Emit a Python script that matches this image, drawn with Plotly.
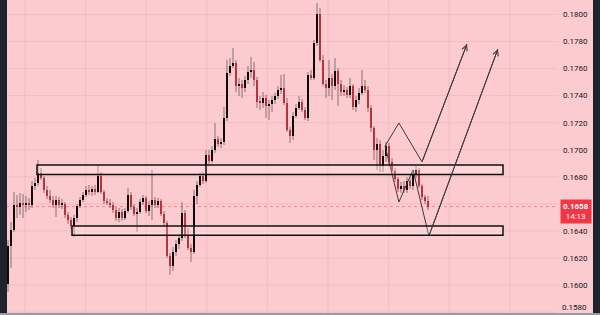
import plotly.graph_objects as go

# ---- candle data (price) ----
opens = [
 0.16008,0.16289,0.16407,0.16592,0.16577,0.16607,0.16592,0.16607,0.16592,0.16732,
 0.16755,0.16829,0.16792,0.16703,0.16659,0.16629,0.16592,0.16629,0.16592,0.16599,
 0.16518,0.16481,0.16437,0.16496,0.16585,0.16629,0.16666,0.16703,0.16688,0.16710,
 0.16688,0.16806,0.16688,0.16622,0.16607,0.16592,0.16555,0.16496,0.16540,0.16496,
 0.16548,0.16666,0.16577,0.16526,0.16540,0.16614,0.16644,0.16548,0.16592,0.16629,
 0.16592,0.16622,0.16526,0.16459,0.16215,0.16141,0.16245,0.16304,0.16348,0.16533,
 0.16363,0.16274,0.16245,0.16659,0.16740,0.16806,0.16769,0.16962,0.16917,0.16998,
 0.17080,0.17043,0.17058,0.17235,0.17568,0.17619,0.17641,0.17471,0.17486,0.17457,
 0.17516,0.17575,0.17590,0.17516,0.17353,0.17346,0.17383,0.17324,0.17338,0.17368,
 0.17398,0.17442,0.17457,0.17346,0.17146,0.17102,0.17250,0.17309,0.17353,0.17294,
 0.17235,0.17553,0.17531,0.17789,0.18004,0.17664,0.17486,0.17457,0.17531,0.17471,
 0.17582,0.17486,0.17427,0.17442,0.17405,0.17471,0.17316,0.17368,0.17420,0.17471,
 0.17442,0.17309,0.17161,0.16998,0.17043,0.16880,0.16954,0.17028,0.16910,0.16843,
 0.16784,0.16710,0.16732,0.16703,0.16769,0.16732,0.16821,0.16851,0.16732,0.16651,
 0.16622]
closes = [
 0.16289,0.16407,0.16592,0.16577,0.16607,0.16592,0.16607,0.16592,0.16732,0.16755,
 0.16829,0.16792,0.16703,0.16659,0.16629,0.16592,0.16629,0.16592,0.16599,0.16518,
 0.16481,0.16437,0.16496,0.16585,0.16629,0.16666,0.16703,0.16688,0.16710,0.16688,
 0.16806,0.16688,0.16622,0.16607,0.16592,0.16555,0.16496,0.16540,0.16496,0.16548,
 0.16666,0.16577,0.16526,0.16540,0.16614,0.16644,0.16548,0.16592,0.16629,0.16592,
 0.16622,0.16526,0.16459,0.16215,0.16141,0.16245,0.16304,0.16348,0.16533,0.16363,
 0.16274,0.16245,0.16659,0.16740,0.16806,0.16769,0.16962,0.16917,0.16998,0.17080,
 0.17043,0.17058,0.17235,0.17568,0.17619,0.17641,0.17471,0.17486,0.17457,0.17516,
 0.17575,0.17590,0.17516,0.17353,0.17346,0.17383,0.17324,0.17338,0.17368,0.17398,
 0.17442,0.17457,0.17346,0.17146,0.17102,0.17250,0.17309,0.17353,0.17294,0.17235,
 0.17553,0.17531,0.17789,0.18004,0.17664,0.17486,0.17457,0.17531,0.17471,0.17582,
 0.17486,0.17427,0.17442,0.17405,0.17471,0.17316,0.17368,0.17420,0.17471,0.17442,
 0.17309,0.17161,0.16998,0.17043,0.16880,0.16954,0.17028,0.16910,0.16843,0.16784,
 0.16710,0.16732,0.16703,0.16769,0.16732,0.16821,0.16851,0.16732,0.16651,0.16622,
 0.16580]
highs = [
 0.16333,0.16466,0.16688,0.16666,0.16681,0.16673,0.16659,0.16644,0.16769,0.16792,
 0.16925,0.16865,0.16806,0.16732,0.16703,0.16659,0.16659,0.16651,0.16636,0.16614,
 0.16540,0.16503,0.16518,0.16599,0.16651,0.16688,0.16732,0.16740,0.16732,0.16740,
 0.16888,0.16836,0.16703,0.16644,0.16636,0.16614,0.16577,0.16570,0.16562,0.16570,
 0.16718,0.16688,0.16599,0.16570,0.16636,0.16666,0.16659,0.16622,0.16851,0.16651,
 0.16644,0.16636,0.16548,0.16474,0.16237,0.16282,0.16333,0.16378,0.16614,0.16555,
 0.16422,0.16304,0.16703,0.16769,0.16829,0.16836,0.16998,0.16998,0.17028,0.17198,
 0.17102,0.17087,0.17316,0.17664,0.17678,0.17752,0.17664,0.17531,0.17516,0.17545,
 0.17619,0.17686,0.17649,0.17538,0.17398,0.17427,0.17405,0.17368,0.17398,0.17420,
 0.17471,0.17553,0.17560,0.17383,0.17168,0.17279,0.17338,0.17398,0.17375,0.17316,
 0.17575,0.17590,0.17811,0.18085,0.18048,0.17701,0.17516,0.17664,0.17560,0.17678,
 0.17604,0.17516,0.17479,0.17464,0.17531,0.17486,0.17398,0.17457,0.17590,0.17516,
 0.17471,0.17331,0.17176,0.17087,0.17072,0.16998,0.17058,0.17050,0.16939,0.16865,
 0.16799,0.16762,0.16769,0.16799,0.16792,0.16851,0.16880,0.16865,0.16747,0.16666,
 0.16659]
lows = [
 0.15949,0.16126,0.16393,0.16496,0.16518,0.16496,0.16540,0.16555,0.16570,0.16703,
 0.16732,0.16777,0.16681,0.16636,0.16607,0.16570,0.16503,0.16570,0.16562,0.16496,
 0.16452,0.16415,0.16356,0.16466,0.16570,0.16614,0.16651,0.16666,0.16659,0.16666,
 0.16681,0.16673,0.16599,0.16592,0.16570,0.16533,0.16474,0.16466,0.16474,0.16481,
 0.16533,0.16555,0.16511,0.16393,0.16526,0.16592,0.16533,0.16511,0.16481,0.16570,
 0.16570,0.16511,0.16437,0.16200,0.16075,0.16104,0.16215,0.16267,0.16326,0.16348,
 0.16259,0.16171,0.16230,0.16599,0.16725,0.16747,0.16755,0.16895,0.16902,0.16976,
 0.17021,0.17013,0.17035,0.17213,0.17545,0.17604,0.17427,0.17398,0.17383,0.17427,
 0.17486,0.17531,0.17471,0.17309,0.17294,0.17309,0.17235,0.17220,0.17279,0.17338,
 0.17375,0.17412,0.17331,0.17132,0.17050,0.17072,0.17235,0.17294,0.17279,0.17220,
 0.17213,0.17516,0.17516,0.17767,0.17649,0.17471,0.17383,0.17398,0.17368,0.17442,
 0.17324,0.17398,0.17398,0.17383,0.17383,0.17294,0.17279,0.17338,0.17405,0.17420,
 0.17279,0.17132,0.16925,0.16851,0.16836,0.16836,0.16910,0.16888,0.16821,0.16762,
 0.16688,0.16681,0.16681,0.16681,0.16710,0.16703,0.16792,0.16718,0.16629,0.16599,
 0.16555]

# ---- drawings ----
zone_upper = [9.67, 165.0, 0.16817, 0.16888]   # x0, x1, y0, y1
zone_lower = [21.33, 165.0, 0.16369, 0.16437]
path1_x = [125.7, 130.3, 138.0, 153.0]
path1_y = [0.17028, 0.17198, 0.16910, 0.17782]
path2_x = [125.7, 130.3, 135.0, 140.3, 163.3]
path2_y = [0.17028, 0.16614, 0.16851, 0.16363, 0.17745]
last_price = 0.1658
countdown = "14:13"
all_ticks = [round(0.158 + 0.002 * k, 4) for k in range(12)]
# 0.1660 is hidden by the price tag, 0.1580 sits at the bottom edge (drawn separately)
label_ticks = [v for v in all_ticks if abs(v - 0.166) > 1e-9 and abs(v - 0.158) > 1e-9]
x_grid = [5.67 + 20.2 * k for k in range(9)]

PINK = "#fccbcf"
RED = "#f23645"
GRID = "rgba(160,60,70,0.09)"
DARK = "#1e222d"

n = len(closes)
idx = list(range(n))

# wicks
wx, wy = [], []
for i in idx:
    wx += [i, i, None]
    wy += [lows[i], highs[i], None]

bases = [min(o, c) for o, c in zip(opens, closes)]
hts = [max(abs(c - o), 0.00008) for o, c in zip(opens, closes)]
cols = ["#000000" if c >= o else RED for o, c in zip(opens, closes)]

fig = go.Figure()
fig.add_trace(go.Scatter(x=wx, y=wy, mode="lines",
                         line=dict(color="rgba(40,40,45,0.55)", width=1),
                         hoverinfo="skip", showlegend=False))
fig.add_trace(go.Bar(x=idx, y=hts, base=bases, width=0.7,
                     marker=dict(color=cols, line=dict(width=0)),
                     showlegend=False))
for px_, py_ in ((path1_x, path1_y), (path2_x, path2_y)):
    fig.add_trace(go.Scatter(x=px_, y=py_, mode="lines",
                             line=dict(color="#3a3a3f", width=1),
                             hoverinfo="skip", showlegend=False))
    fig.add_annotation(x=px_[-1], y=py_[-1], ax=px_[-2], ay=py_[-2],
                       xref="x", yref="y", axref="x", ayref="y",
                       showarrow=True, arrowhead=5, arrowsize=1.1,
                       arrowwidth=1, arrowcolor="#3a3a3f", text="")

shapes = []
for xg in x_grid:
    shapes.append(dict(type="line", xref="x", yref="paper", x0=xg, x1=xg,
                       y0=0, y1=1, line=dict(color=GRID, width=1), layer="below"))
for yg in all_ticks:
    shapes.append(dict(type="line", xref="paper", yref="y", x0=0, x1=0.93,
                       y0=yg, y1=yg, line=dict(color=GRID, width=1), layer="below"))
for z in (zone_upper, zone_lower):
    shapes.append(dict(type="rect", xref="x", yref="y", x0=z[0], x1=z[1],
                       y0=z[2], y1=z[3], fillcolor="rgba(255,255,255,0.22)",
                       line=dict(color="#111111", width=1.5), layer="above"))
shapes.append(dict(type="line", xref="paper", yref="y", x0=0, x1=0.93,
                   y0=last_price, y1=last_price,
                   line=dict(color="rgba(242,54,69,0.45)", width=1, dash="dot"),
                   layer="below"))
# dark UI edges
shapes.append(dict(type="rect", xref="paper", yref="paper", x0=0, x1=7/600,
                   y0=0, y1=1, fillcolor=DARK, line=dict(width=0), layer="above"))
shapes.append(dict(type="rect", xref="paper", yref="paper", x0=593/600, x1=1,
                   y0=0, y1=1, fillcolor=DARK, line=dict(width=0), layer="above"))
shapes.append(dict(type="rect", xref="paper", yref="paper", x0=0, x1=1,
                   y0=0, y1=2/315, fillcolor="#9a9aa2", line=dict(width=0), layer="above"))

fig.add_annotation(xref="paper", yref="y", x=575.5/600, y=0.16544,
                   text=f"<b>{last_price:.4f}</b><br>{countdown}",
                   showarrow=False, bgcolor=RED, borderpad=2,
                   font=dict(color="white", size=8, family="Roboto"),
                   xanchor="center", yanchor="middle")
fig.add_annotation(xref="paper", yref="paper", x=588/600, y=2/315,
                   text="0.1580", showarrow=False, borderpad=0,
                   font=dict(color="#131722", size=8, family="Roboto"),
                   xanchor="right", yanchor="bottom")

fig.update_layout(
    width=600, height=315,
    margin=dict(l=0, r=0, t=0, b=0, pad=0),
    paper_bgcolor=PINK, plot_bgcolor=PINK,
    barmode="overlay", bargap=0, showlegend=False,
    shapes=shapes,
    xaxis=dict(range=[-8/3, 592/3], showgrid=False, showticklabels=False,
               zeroline=False, ticks="", showline=False, fixedrange=True),
    yaxis=dict(side="right", range=[0.15779, 0.18107], tickvals=label_ticks,
               ticktext=[f"{v:.4f}" for v in label_ticks],
               ticklabelposition="inside",
               showgrid=False, zeroline=False,
               ticks="inside", ticklen=11, tickcolor="rgba(0,0,0,0)",
               tickfont=dict(size=8, color="#131722", family="Roboto"),
               showline=False, fixedrange=True),
)

fig.write_html("out.html")
